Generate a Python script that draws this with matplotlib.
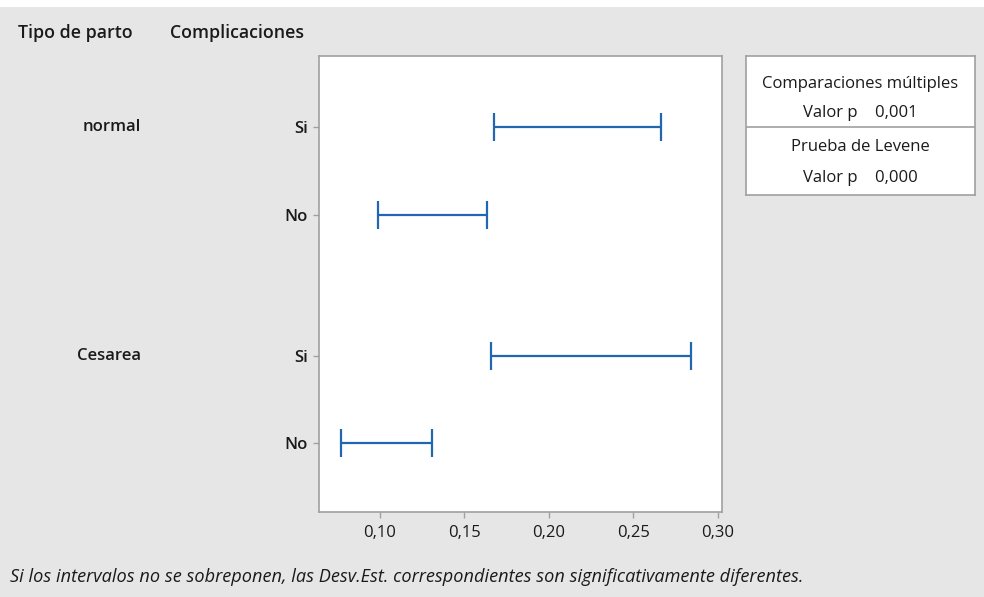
import numpy as np
import matplotlib
matplotlib.use("Agg")
from matplotlib import pyplot as plt
from matplotlib.patches import Rectangle

# data
grupos = ["normal", "Cesarea"]
complic = ["Si", "No", "Si", "No"]
lower = [0.1676, 0.0992, 0.1661, 0.0772]
upper = [0.2667, 0.1633, 0.2842, 0.1312]
ypos = [0, 1, 2.6, 3.6]
xticks = [0.10, 0.15, 0.20, 0.25, 0.30]
xtick_labels = ["0,10", "0,15", "0,20", "0,25", "0,30"]

plt.rcParams["font.family"] = ["Open Sans", "DejaVu Sans"]
plt.rcParams["font.size"] = 12
txtc = "#1a1a1a"
grey = "#a0a0a0"

W, H = 984, 597
fig = plt.figure(figsize=(W / 100, H / 100), dpi=100, facecolor="#e6e6e6")
fig.patches.append(Rectangle((0, 1 - 7 / H), 1, 7 / H, transform=fig.transFigure,
                             facecolor="white", edgecolor="none"))

def px(x0, y0, x1, y1):
    return [x0 / W, 1 - y1 / H, (x1 - x0) / W, (y1 - y0) / H]

ax = fig.add_axes(px(319, 56, 722, 512))
lo = np.array(lower)
hi = np.array(upper)
mid = (lo + hi) / 2
ax.errorbar(mid, ypos, xerr=(hi - lo) / 2, fmt="none", ecolor="#2166b0",
            elinewidth=1.6, capsize=10, capthick=1.6)
ax.set_xlim(0.0642, 0.3026)
ax.set_ylim(4.38, -0.81)
ax.set_xticks(xticks)
ax.set_xticklabels(xtick_labels)
ax.set_yticks(ypos)
ax.set_yticklabels(complic, fontweight="semibold")
for s in ax.spines.values():
    s.set_color(grey)
    s.set_linewidth(1.2)
ax.tick_params(colors=grey, labelcolor=txtc, length=4.5, width=1, labelsize=12)
ax.tick_params(axis="y", pad=3.5)
ax.tick_params(axis="x", pad=5)

# group labels, right aligned
for t, y in zip(grupos, [ypos[0], ypos[2]]):
    ax.annotate(t, xy=(141 / W, y), xycoords=("figure fraction", "data"),
                ha="right", va="center", fontsize=12, fontweight="semibold",
                color=txtc)

fig.text(18 / W, 1 - 33 / H, "Tipo de parto", fontsize=12.8, fontweight="semibold",
         va="center", color=txtc)
fig.text(170 / W, 1 - 33 / H, "Complicaciones", fontsize=12.8, fontweight="semibold",
         va="center", color=txtc)

# stats box
bx = fig.add_axes(px(746, 56, 975, 195))
bx.set_xlim(0, 1)
bx.set_ylim(1, 0)
bx.set_xticks([])
bx.set_yticks([])
for s in bx.spines.values():
    s.set_color(grey)
    s.set_linewidth(1.2)
bx.axhline((127 - 56) / 139, color=grey, lw=1.2)
rows = [("Comparaciones múltiples", 84), ("Valor p    0,001", 113),
        ("Prueba de Levene", 147), ("Valor p    0,000", 178)]
for txt, y in rows:
    bx.text(0.5, (y - 56) / 139, txt, ha="center", va="center",
            fontsize=12, color=txtc)

fig.text(10 / W, 1 - 577 / H,
         "Si los intervalos no se sobreponen, las Desv.Est. correspondientes son significativamente diferentes.",
         fontsize=13.1, style="italic", va="center", color=txtc)

fig.savefig("out.png", dpi=100, facecolor=fig.get_facecolor())
